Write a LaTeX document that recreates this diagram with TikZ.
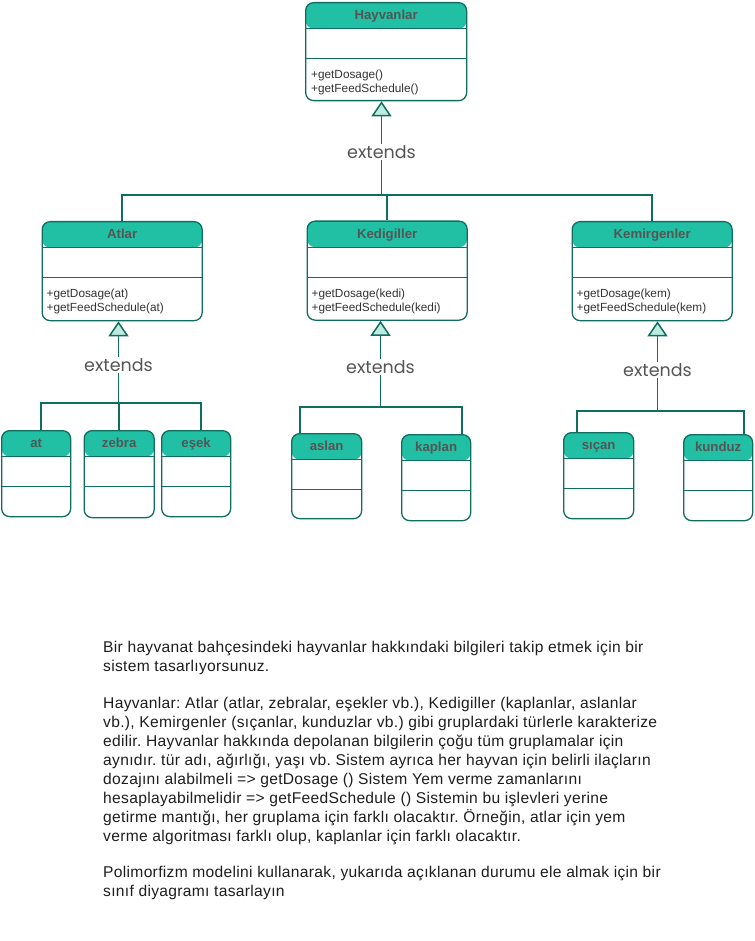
\documentclass[tikz,border=0pt]{standalone}
\usepackage{fontspec}
\setmainfont{Liberation Sans}
\newfontfamily\sketchfont{Poppins}
\newfontfamily\descfont[LetterSpace=2]{Liberation Sans}
\usetikzlibrary{calc,arrows.meta,positioning}
\definecolor{umlline}{RGB}{15,110,95}
\definecolor{umlhead}{RGB}{33,192,165}
\definecolor{umlhatch}{RGB}{190,235,224}
\definecolor{umltext}{RGB}{85,85,85}
\definecolor{umlops}{RGB}{51,51,51}
\definecolor{desctext}{RGB}{30,30,32}
\frenchspacing
\tikzset{
    classbox/.style={
    rectangle,rounded corners=8pt,draw=umlline,line width=1.3pt,fill=white,
    anchor=north west,inner sep=0pt,
    path picture={
      \fill[umlhead] (path picture bounding box.north west) rectangle ([yshift=-26pt]path picture bounding box.north east);
      \draw[umlline,line width=1.2pt] ([yshift=-26pt]path picture bounding box.north west) -- ([yshift=-26pt]path picture bounding box.north east);
      \draw[umlline,line width=1.2pt] ([yshift=-56pt]path picture bounding box.north west) -- ([yshift=-56pt]path picture bounding box.north east);
    }
    },
    classtitle/.style={
    anchor=base,inner sep=0pt,text=umltext,font=\bfseries\fontsize{13.2}{15}\selectfont
    },
    classops/.style={
    anchor=north west,inner sep=0pt,align=left,text=umlops,font=\fontsize{11.8}{14}\selectfont
    },
    link/.style={
    draw=umlline,line width=1.8pt
    },
    extendsline/.style={
    link,-{Triangle[width=20pt,length=15pt,fill=umlhatch,line width=1.5pt]}
    },
    extlabel/.style={
    pos=0.46,fill=white,inner sep=1.5pt,text=umltext,font=\sketchfont\fontsize{17.5}{18}\selectfont
    },
    desc/.style={
    anchor=north west,inner sep=0pt,align=left,text=desctext,font=\descfont\fontsize{15.6}{19}\selectfont
    },
}

\begin{document}
\begin{tikzpicture}[x=1pt,y=-1pt]
   \useasboundingbox (0,0) rectangle (754,941);

   % parent and group classes
   \node[classbox,minimum width=161pt,minimum height=98pt] (hay) at (305,2) {};
   \node[classtitle] (hay-t) at ([yshift=-17.5pt]hay.north) {Hayvanlar};
   \node[classops] (hay-o) at ([xshift=6pt,yshift=-68pt]hay.north west) {+getDosage()\\+getFeedSchedule()};

   \node[classbox,minimum width=160pt,minimum height=99pt] (atlar) at (41.5,221) {};
   \node[classtitle] (atlar-t) at ([yshift=-17.5pt]atlar.north) {Atlar};
   \node[classops] (atlar-o) at ([xshift=5pt,yshift=-68pt]atlar.north west) {+getDosage(at)\\+getFeedSchedule(at)};

   \node[classbox,minimum width=160pt,minimum height=99pt] (ked) at (306.5,220.5) {};
   \node[classtitle] (ked-t) at ([yshift=-17.5pt]ked.north) {Kedigiller};
   \node[classops] (ked-o) at ([xshift=5pt,yshift=-68pt]ked.north west) {+getDosage(kedi)\\+getFeedSchedule(kedi)};

   \node[classbox,minimum width=160pt,minimum height=99pt] (kem) at (571.5,221) {};
   \node[classtitle] (kem-t) at ([yshift=-17.5pt]kem.north) {Kemirgenler};
   \node[classops] (kem-o) at ([xshift=5pt,yshift=-68pt]kem.north west) {+getDosage(kem)\\+getFeedSchedule(kem)};

   % species classes
   \foreach \n/\x/\y/\w/\h/\t in {at/1/430/69/86/at, zebra/83.5/430/70/87/zebra, esek/161/430/69/86/eşek,
      aslan/291/433/70/85/aslan, kaplan/401/434/69/86/kaplan, sican/563/432/70/86/sıçan, kunduz/683/434/69/86/kunduz}
   {
     \node[classbox,minimum width=\w pt,minimum height=\h pt] (\n) at (\x,\y) {};
     \node[classtitle] (\n-t) at ([yshift=-17.5pt]\n.north) {\t};
   }

   % generalisation links
   \coordinate (j0) at (381.5,195);
   \draw[extendsline] (j0) -- node[extlabel] {extends} (j0 |- hay.south);
   \draw[link] (atlar.north) |- (j0) -| (kem.north);
   \draw[link] (ked.north) -- (ked.north |- j0);

   \coordinate (j1) at (118.5,403);
   \draw[extendsline] (j1) -- node[extlabel] {extends} (j1 |- atlar.south);
   \draw[link] ([xshift=5pt]at.north) |- (j1) -| ([xshift=5pt]esek.north);
   \draw[link] (zebra.north) -- (zebra.north |- j1);

   \coordinate (j2) at (380.5,407);
   \draw[extendsline] (j2) -- node[extlabel] {extends} (j2 |- ked.south);
   \draw[link] ([xshift=9pt]aslan.north west) |- (j2) -| ([xshift=-9pt]kaplan.north east);

   \coordinate (j3) at (657.5,411);
   \draw[extendsline] (j3) -- node[extlabel] {extends} (j3 |- kem.south);
   \draw[link] ([xshift=14pt]sican.north west) |- (j3) -| ([xshift=-9pt]kunduz.north east);

   % task text
   \node[desc] (desc) at (103,641) {Bir hayvanat bahçesindeki hayvanlar hakkındaki bilgileri takip etmek için bir\\
sistem tasarlıyorsunuz.\\[17.5pt]
Hayvanlar: Atlar (atlar, zebralar, eşekler vb.), Kedigiller (kaplanlar, aslanlar\\
vb.), Kemirgenler (sıçanlar, kunduzlar vb.) gibi gruplardaki türlerle karakterize\\
edilir. Hayvanlar hakkında depolanan bilgilerin çoğu tüm gruplamalar için\\
aynıdır. tür adı, ağırlığı, yaşı vb. Sistem ayrıca her hayvan için belirli ilaçların\\
dozajını alabilmeli => getDosage () Sistem Yem verme zamanlarını\\
hesaplayabilmelidir => getFeedSchedule () Sistemin bu işlevleri yerine\\
getirme mantığı, her gruplama için farklı olacaktır. Örneğin, atlar için yem\\
verme algoritması farklı olup, kaplanlar için farklı olacaktır.\\[17.5pt]
Polimorfizm modelini kullanarak, yukarıda açıklanan durumu ele almak için bir\\
sınıf diyagramı tasarlayın};
\end{tikzpicture}
\end{document}
